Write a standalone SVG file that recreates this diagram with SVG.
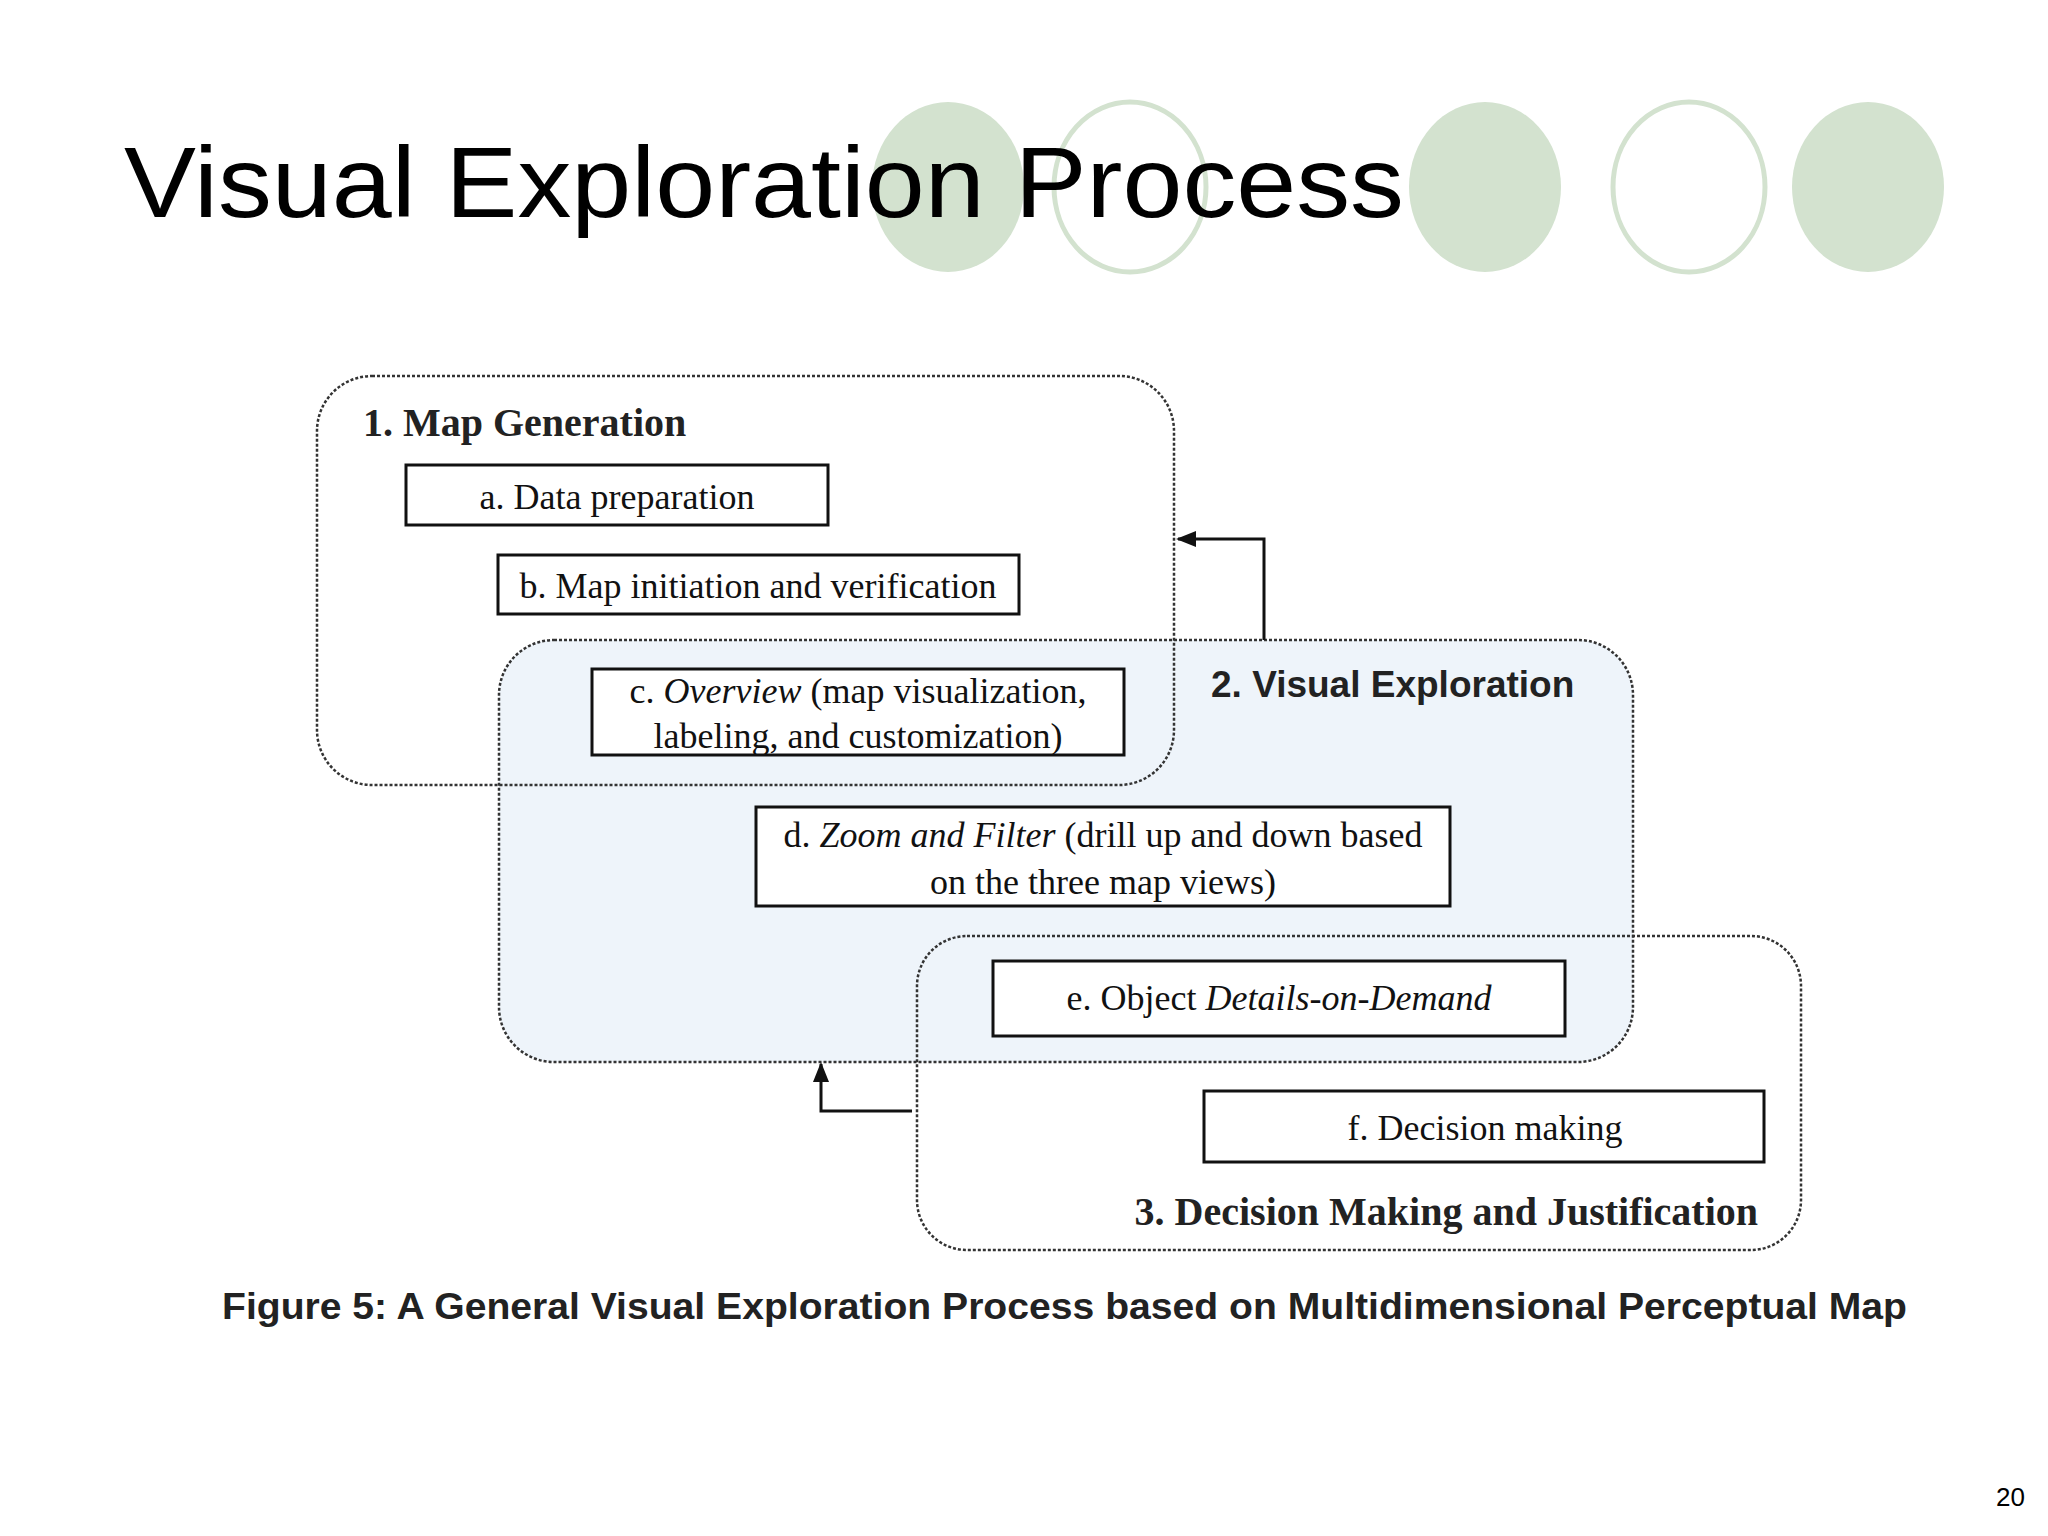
<svg xmlns="http://www.w3.org/2000/svg" width="2048" height="1536" viewBox="0 0 2048 1536">
<style>
.cf{fill:#d3e2cf}
.co{fill:none;stroke:#d3e2cf;stroke-width:5}
.grp{fill:none;stroke:#333;stroke-width:2.5;stroke-dasharray:3 2}
.box{fill:#fff;stroke:#111;stroke-width:3}
.t{font-family:"Liberation Serif",serif;font-size:36px;fill:#111}
.h{font-family:"Liberation Serif",serif;font-size:40px;font-weight:bold;fill:#222}
.s{font-family:"Liberation Sans",sans-serif;font-weight:bold;fill:#222}
.ln{fill:none;stroke:#111;stroke-width:3}
</style>
<defs><marker id="ah" markerWidth="20" markerHeight="16" refX="18" refY="8" orient="auto" markerUnits="userSpaceOnUse"><path d="M0,0 L20,8 L0,16 Z" fill="#111"/></marker></defs>
<rect width="2048" height="1536" fill="#fff"/>
<g id="deco">
<ellipse class="cf" cx="948" cy="187" rx="76" ry="85"/>
<ellipse class="co" cx="1130" cy="187" rx="76" ry="85"/>
<ellipse class="cf" cx="1485" cy="187" rx="76" ry="85"/>
<ellipse class="co" cx="1689" cy="187" rx="76" ry="85"/>
<ellipse class="cf" cx="1868" cy="187" rx="76" ry="85"/>
</g>
<text x="124" y="217" font-family="Liberation Sans,sans-serif" font-size="100" fill="#000" textLength="1280" lengthAdjust="spacingAndGlyphs">Visual Exploration Process</text>
<rect x="499" y="640" width="1134" height="422" rx="55" fill="#eef4fa"/>
<g id="group1"><rect class="grp" x="317" y="376" width="857" height="409" rx="55"/><text class="h" x="363" y="436">1. Map Generation</text></g>
<g id="group2"><rect class="grp" x="499" y="640" width="1134" height="422" rx="55"/><text class="s" font-size="37" x="1211" y="697">2. Visual Exploration</text></g>
<g id="group3"><rect class="grp" x="917" y="936" width="884" height="314" rx="50"/><text class="h" x="1758" y="1225" text-anchor="end">3. Decision Making and Justification</text></g>
<g id="a"><rect class="box" x="406" y="465" width="422" height="60"/><text class="t" x="617" y="509" text-anchor="middle">a. Data preparation</text></g>
<g id="b"><rect class="box" x="498" y="555" width="521" height="59"/><text class="t" x="758" y="598" text-anchor="middle">b. Map initiation and verification</text></g>
<g id="c"><rect class="box" x="592" y="669" width="532" height="86"/><text class="t" x="858" y="703" text-anchor="middle">c. <tspan font-style="italic">Overview</tspan> (map visualization,</text><text class="t" x="858" y="748" text-anchor="middle">labeling, and customization)</text></g>
<g id="d"><rect class="box" x="756" y="807" width="694" height="99"/><text class="t" x="1103" y="847" text-anchor="middle">d. <tspan font-style="italic">Zoom and Filter</tspan> (drill up and down based</text><text class="t" x="1103" y="894" text-anchor="middle">on the three map views)</text></g>
<g id="e"><rect class="box" x="993" y="961" width="572" height="75"/><text class="t" x="1279" y="1010" text-anchor="middle">e. Object <tspan font-style="italic">Details-on-Demand</tspan></text></g>
<g id="f"><rect class="box" x="1204" y="1091" width="560" height="71"/><text class="t" x="1485" y="1140" text-anchor="middle">f. Decision making</text></g>
<g id="connectors">
<polyline class="ln" points="1264,640 1264,539 1178,539" marker-end="url(#ah)"/>
<polyline class="ln" points="912,1111 821,1111 821,1064" marker-end="url(#ah)"/>
</g>
<text class="s" font-size="37" x="222" y="1319" textLength="1685" lengthAdjust="spacingAndGlyphs">Figure 5: A General Visual Exploration Process based on Multidimensional Perceptual Map</text>
<text x="1996" y="1506" font-family="Liberation Sans,sans-serif" font-size="26" fill="#000">20</text>
</svg>
